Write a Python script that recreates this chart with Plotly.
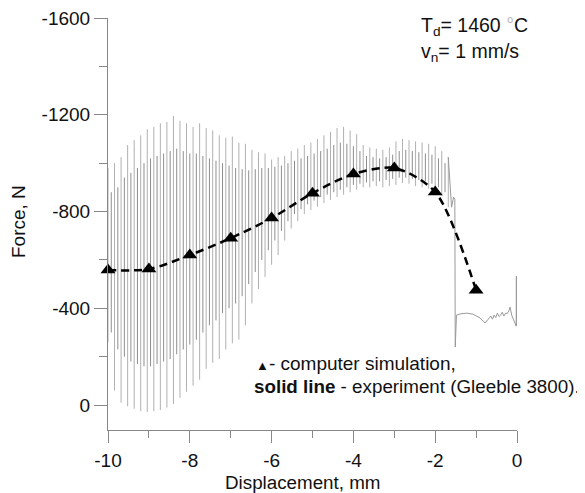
import plotly.graph_objects as go

# ---- experiment (Gleeble 3800): oscillation strokes ----
exp_x = [-10.00, -9.84, -9.68, -9.52, -9.36, -9.20, -9.04, -8.88, -8.72, -8.56,
         -8.40, -8.24, -8.08, -7.92, -7.76, -7.60, -7.44, -7.28, -7.12, -6.96,
         -6.80, -6.64, -6.48, -6.32, -6.16, -6.00, -5.84, -5.68, -5.52, -5.36,
         -5.20, -5.04, -4.88, -4.72, -4.56, -4.40, -4.24, -4.08, -3.92, -3.76,
         -3.60, -3.44, -3.28, -3.12, -2.96, -2.80, -2.64, -2.48, -2.32, -2.16,
         -2.00, -1.84, -1.68]
exp_top = [-980, -1000, -1025, -1075, -1095, -1115, -1140, -1150, -1165, -1170,
           -1195, -1175, -1165, -1150, -1165, -1145, -1135, -1115, -1105, -1110,
           -1085, -1080, -1055, -1045, -1040, -1015, -1025, -1030, -1050, -1060,
           -1075, -1085, -1100, -1115, -1130, -1145, -1150, -1135, -1120, -1075,
           -1065, -1060, -1055, -1065, -1090, -1100, -1095, -1090, -1085, -1080,
           -1070, -1050, -1025]
exp_bot = [-260, -60, -10, 5, 15, 25, 28, 25, 20, 10,
           -5, -30, -55, -80, -105, -150, -175, -190, -230, -255,
           -270, -330, -420, -480, -530, -580, -620, -680, -730, -760,
           -790, -806, -820, -835, -848, -860, -870, -880, -890, -900,
           -900, -905, -900, -905, -910, -918, -915, -905, -900, -895,
           -880, -865, -818]

# shorter, darker strokes between the long ones
inner_x = [-9.92, -9.76, -9.60, -9.44, -9.28, -9.12, -8.96, -8.80, -8.64, -8.48,
           -8.32, -8.16, -8.00, -7.84, -7.68, -7.52, -7.36, -7.20, -7.04, -6.88,
           -6.72, -6.56, -6.40, -6.24, -6.08, -5.92, -5.76, -5.60, -5.44, -5.28,
           -5.12, -4.96, -4.80, -4.64, -4.48, -4.32, -4.16, -4.00, -3.84, -3.68,
           -3.52, -3.36, -3.20, -3.04, -2.88, -2.72, -2.56, -2.40, -2.24, -2.08,
           -1.92, -1.76]
inner_top = [-880, -900, -940, -960, -980, -1000, -1020, -1030, -1040, -1050,
             -1060, -1050, -1040, -1040, -1030, -1020, -1010, -1000, -990, -980,
             -975, -970, -975, -980, -980, -985, -990, -1000, -1010, -1020,
             -1030, -1040, -1050, -1060, -1075, -1085, -1080, -1070, -1050, -1030,
             -1025, -1020, -1025, -1035, -1050, -1055, -1050, -1045, -1040, -1035,
             -1020, -1000]
inner_bot = [-300, -230, -200, -180, -170, -160, -160, -170, -180, -190,
             -210, -230, -250, -270, -300, -330, -350, -380, -400, -420,
             -450, -500, -550, -600, -640, -680, -720, -760, -790, -810,
             -830, -845, -860, -870, -880, -890, -900, -910, -915, -920,
             -925, -925, -930, -935, -940, -940, -935, -930, -925, -915,
             -900, -880]

# tail of the experimental curve after the drop
tail_x = [-1.68, -1.60, -1.55, -1.52, -1.51, -1.48, -1.35, -1.22, -1.08, -0.90,
          -0.78, -0.71, -0.64, -0.60, -0.56, -0.52, -0.48, -0.44, -0.40, -0.36,
          -0.32, -0.28, -0.24, -0.20, -0.17, -0.13, -0.09, -0.05, -0.02, -0.015,
          -0.01]
tail_f = [-1025, -818, -860, -850, -240, -372, -378, -380, -376, -360,
          -339, -355, -368, -355, -372, -362, -380, -366, -372, -384,
          -368, -380, -378, -389, -405, -372, -355, -331, -326, -533,
          -331]

# ---- computer simulation ----
sim_x = [-10, -9, -8, -7, -6, -5, -4, -3, -2, -1]
sim_f = [-558, -562, -620, -690, -773, -876, -955, -980, -881, -475]

# ---- axis ticks ----
x_ticks = [-10, -8, -6, -4, -2, 0]
x_ticklabels = ["-10", "-8", "-6", "-4", "-2", "0"]
x_minor = [-9, -7, -5, -3, -1]
y_ticks = [-1600, -1200, -800, -400, 0]
y_ticklabels = ["-1600", "-1200", "-800", "-400", "0"]
y_minor = [-1400, -1000, -600, -200]

FONT = "Liberation Sans, Arial, sans-serif"


def strokes(xs, tops, bots):
    sx, sy = [], []
    for x, t, b in zip(xs, tops, bots):
        sx += [x, x, None]
        sy += [t, b, None]
    return sx, sy


ox, oy = strokes(exp_x, exp_top, exp_bot)
ix, iy = strokes(inner_x, inner_top, inner_bot)

fig = go.Figure()
fig.add_trace(go.Scatter(x=ox, y=oy, mode="lines", connectgaps=False,
                         line=dict(color="#b0b0b0", width=1), hoverinfo="skip"))
fig.add_trace(go.Scatter(x=ix, y=iy, mode="lines", connectgaps=False,
                         line=dict(color="#8e8e8e", width=1), hoverinfo="skip"))
fig.add_trace(go.Scatter(x=tail_x, y=tail_f, mode="lines",
                         line=dict(color="#9a9a9a", width=1), hoverinfo="skip"))
fig.add_trace(go.Scatter(x=sim_x, y=sim_f, mode="lines+markers",
                         line=dict(color="black", width=2.5, dash="8px,5px",
                                   shape="spline", smoothing=0.8),
                         marker=dict(symbol="triangle-up", size=13, color="black"),
                         cliponaxis=False))

# page body has an 8px margin: shrink the figure so it fits the window
fig.update_layout(
    width=577, height=485,
    margin=dict(l=100, r=68, t=10, b=63),
    plot_bgcolor="white", paper_bgcolor="white",
    showlegend=False,
    font=dict(family=FONT, size=19, color="#111"),
    xaxis=dict(range=[-10, 0], tickvals=x_ticks, ticktext=x_ticklabels,
               ticks="outside", ticklen=12, tickcolor="#888", tickwidth=1,
               ticklabelstandoff=1, automargin=False, ticklabeloverflow="allow",
               showline=True, linecolor="#888", linewidth=1,
               showgrid=False, zeroline=False,
               minor=dict(tickvals=x_minor, ticks="outside", ticklen=7,
                          tickcolor="#888", showgrid=False)),
    yaxis=dict(range=[103, -1600], tickvals=y_ticks, ticktext=y_ticklabels,
               ticks="outside", ticklen=13, tickcolor="#888", tickwidth=1,
               automargin=False, ticklabeloverflow="allow",
               showline=True, linecolor="#888", linewidth=1,
               showgrid=False, zeroline=False,
               minor=dict(tickvals=y_minor, ticks="outside", ticklen=8,
                          tickcolor="#888", showgrid=False)),
)

ann = [
    dict(text="Displacement, mm", x=303, y=482, size=18.8),
    dict(text="Force, N", x=18, y=222, textangle=-90, size=19),
]
for a in ann:
    fig.add_annotation(text=a["text"], xref="paper", yref="paper",
                       x=(a["x"] - 108) / 409, y=(430 - a["y"]) / 412,
                       xanchor="center", yanchor="middle", showarrow=False,
                       textangle=a.get("textangle", 0),
                       font=dict(family=FONT, size=a["size"], color="#111"))

left_notes = [
    ("T<sub>d</sub>= 1460 <span style='color:#bbbbbb'>°</span>C", 419, 27, 19.5),
    ("v<sub>n</sub>= 1 mm/s", 419, 53, 19.5),
    ("<span style='font-size:13px'>▲</span>- computer simulation,", 254, 363, 19),
    ("<b>solid line</b> - experiment (Gleeble 3800).", 252, 386, 18.8),
]
for t, px, py, fs in left_notes:
    fig.add_annotation(text=t, xref="paper", yref="paper",
                       x=(px - 108) / 409, y=(430 - py) / 412,
                       xanchor="left", yanchor="middle", showarrow=False,
                       font=dict(family=FONT, size=fs, color="#111"))

fig.write_html("out.html")
